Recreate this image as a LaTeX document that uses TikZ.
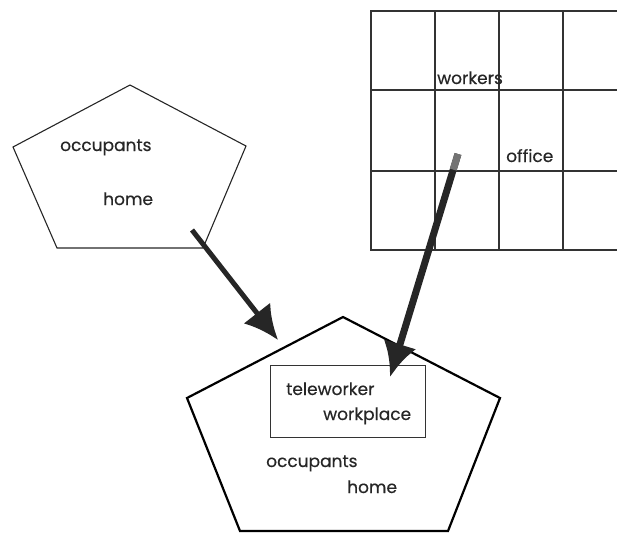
\documentclass[tikz,border=0pt]{standalone}
\usepackage{fontspec}
\setmainfont{Poppins}[FakeBold=0.4]
\usetikzlibrary{arrows.meta,calc}
\tikzset{
  x=1pt, y=-1pt,
  thinshape/.style={draw=black!85, line width=1.1pt, line join=miter},
  gridline/.style={draw=black!80, line width=1.3pt},
  bigshape/.style={draw=black, line width=2.2pt, line join=miter},
  box/.style={draw=black!80, line width=1.4pt},
  lbl/.style={anchor=base west, inner sep=0pt, font=\fontsize{17}{19}\selectfont, text=black!85},
  flow/.style={draw=black!85, -{Latex[length=34pt,width=34pt]}},
}
\begin{document}
\begin{tikzpicture}
\useasboundingbox (0,0) rectangle (617,533);

% small house: occupants at home
\draw[thinshape] (130,85) -- (246,146) -- (203,248) -- (57,248) -- (13,147) -- cycle;
\node[lbl] (occ1) at (60,151) {occupants};
\node[lbl] (home1) at (103,205) {home};

% office floor grid
\draw[gridline] (617,11) -- (371,11) -- (371,250) -- (617,250);
\foreach \gx in {435,499,563} \draw[gridline] (\gx,11) -- (\gx,250);
\draw[gridline] (371,90) -- (617,90);
\draw[gridline] (371,171) -- (617,171);
\node[lbl] (workers) at (437,84) {workers};
\node[lbl] (office) at (506,162) {office};

% large house with teleworker workplace
\draw[bigshape] (343,317) -- (500,398) -- (448,531) -- (240,531) -- (187,398) -- cycle;
\node[box, minimum width=155pt, minimum height=72pt, anchor=north west, inner sep=0pt] (work) at (270,365) {};
\node[lbl] (tele) at (286,395) {teleworker};
\node[lbl] (wplace) at (323,420) {workplace};
\node[lbl] (occ2) at (266,467) {occupants};
\node[lbl] (home2) at (347,493) {home};

% flows into the teleworker home
\coordinate (a1s) at (192,230);
\coordinate (a1e) at (278,340);
\coordinate (a2s) at (458,154);
\coordinate (a2e) at (390,377);
\coordinate (a2m) at ($(a2s)!0.07!(a2e)$);
\draw[flow, line width=5pt] (a1s) -- (a1e);
\draw[flow, line width=7pt] (a2s) -- (a2e);
% lighter start of the office arrow
\draw[draw=black!55, line width=7pt] (a2s) -- (a2m);
\end{tikzpicture}
\end{document}
